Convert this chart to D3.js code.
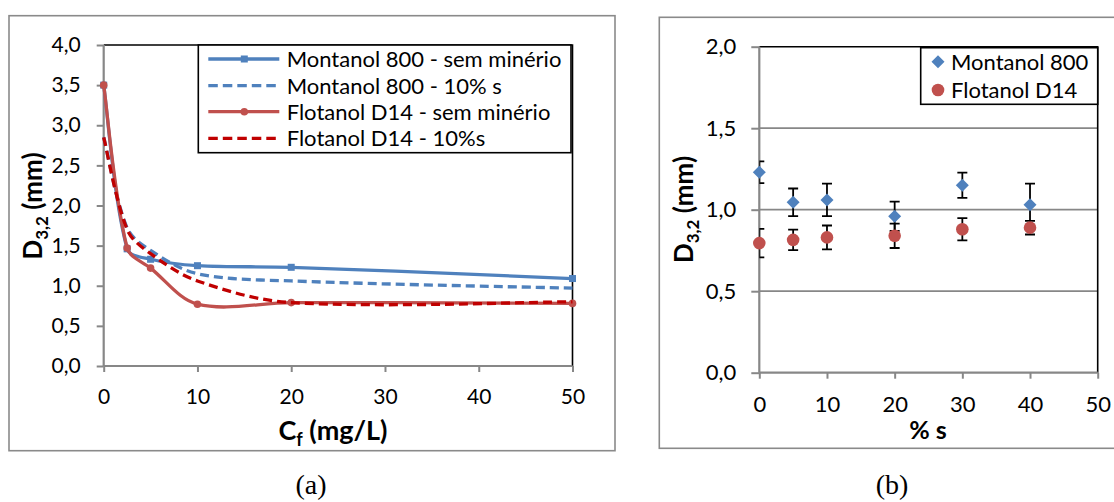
<!DOCTYPE html>
<html><head><meta charset="utf-8">
<script src="https://cdn.jsdelivr.net/npm/d3@7"></script>
<style>
html,body{margin:0;padding:0;background:#fff;}
svg{display:block;}
text{fill:#000;}
</style></head>
<body>
<svg id="c" width="1114" height="502"></svg>
<script>
// ---------- DATA ----------
// Chart (a)
const cf = [0, 2.5, 5, 10, 20, 50];
const montanolSem = [3.5, 1.46, 1.33, 1.25, 1.23, 1.09];
const montanol10 = [2.85, 1.72, 1.44, 1.15, 1.06, 0.97];
const flotanolSem = [3.5, 1.47, 1.22, 0.77, 0.79, 0.78];
const flotanol10 = [2.85, 1.70, 1.40, 1.06, 0.79, 0.80];
const seriesNamesA = ["Montanol 800 - sem minério", "Montanol 800 - 10% s", "Flotanol D14 - sem minério", "Flotanol D14 - 10%s"];
const xTicksA = [0, 10, 20, 30, 40, 50];
const yTicksA = [0, 0.5, 1, 1.5, 2, 2.5, 3, 3.5, 4];
// Chart (b)
const pctS = [0, 5, 10, 20, 30, 40];
const montanolB = [1.23, 1.045, 1.06, 0.96, 1.15, 1.03];
const montanolBErr = [0.067, 0.085, 0.10, 0.09, 0.077, 0.13];
const flotanolB = [0.795, 0.815, 0.83, 0.84, 0.88, 0.89];
const flotanolBErr = [0.087, 0.063, 0.073, 0.075, 0.068, 0.042];
const seriesNamesB = ["Montanol 800", "Flotanol D14"];
const xTicksB = [0, 10, 20, 30, 40, 50];
const yTicksB = [0, 0.5, 1, 1.5, 2];

// ---------- STYLE ----------
const BLUE = "#4F81BD", RED = "#C0504D", DRED = "#C00000", AXIS = "#878787", BOX = "#8a8a8a";
const SANS = "Lato, 'Open Sans', sans-serif", SERIF = "'Liberation Serif', 'Times New Roman', serif";
const fmt = d => d3.format(".1f")(d).replace(".", ",");

const svg = d3.select("#c").style("font-family", SANS);
svg.append("rect").attr("width", 1114).attr("height", 502).attr("fill", "#fff");

function styleAxis(a, fs) {
  a.attr("font-family", null);
  a.select(".domain").attr("stroke", AXIS).attr("stroke-width", 2.2);
  a.selectAll(".tick line").attr("stroke", AXIS).attr("stroke-width", 2);
  a.selectAll("text").style("font-size", fs + "px").style("font-family", SANS);
}

// spreadsheet-style smoothed line: Bezier segments with tangents (P[i+1]-P[i-1])
// whose handle lengths are shared in proportion to the adjoining chord lengths
function smoothPath(pts) {
  const n = pts.length, p = d3.path();
  p.moveTo(pts[0][0], pts[0][1]);
  if (n < 2) return p.toString();
  const d = [];
  for (let i = 0; i < n - 1; i++) d.push(Math.hypot(pts[i + 1][0] - pts[i][0], pts[i + 1][1] - pts[i][1]));
  const tan = i => {
    if (i === 0) return [pts[1][0] - pts[0][0], pts[1][1] - pts[0][1]];
    if (i === n - 1) return [pts[n - 1][0] - pts[n - 2][0], pts[n - 1][1] - pts[n - 2][1]];
    return [pts[i + 1][0] - pts[i - 1][0], pts[i + 1][1] - pts[i - 1][1]];
  };
  const wOut = i => (i === 0 ? 0.5 : d[i] / (d[i - 1] + d[i]));
  const wIn = i => (i === n - 1 ? 0.5 : d[i - 1] / (d[i - 1] + d[i]));
  for (let i = 0; i < n - 1; i++) {
    const t0 = tan(i), t1 = tan(i + 1), a = wOut(i) / 3, b = wIn(i + 1) / 3;
    p.bezierCurveTo(pts[i][0] + t0[0] * a, pts[i][1] + t0[1] * a,
      pts[i + 1][0] - t1[0] * b, pts[i + 1][1] - t1[1] * b, pts[i + 1][0], pts[i + 1][1]);
  }
  return p.toString();
}

// ============ CHART (a) ============
const gA = svg.append("g");
gA.append("rect").attr("x", 9).attr("y", 15.7).attr("width", 606).attr("height", 435)
  .attr("fill", "none").attr("stroke", BOX).attr("stroke-width", 1.6);

const xA = d3.scaleLinear().domain([0, 50]).range([103.7, 572.5]);
const yA = d3.scaleLinear().domain([0, 4]).range([366, 45]);

gA.append("path").attr("d", `M${xA(0)},${yA(4)}H${xA(50)}V${yA(0)}`)
  .attr("fill", "none").attr("stroke", "#000").attr("stroke-width", 1.6);

const axA_y = gA.append("g").attr("transform", `translate(${xA(0)},0)`)
  .call(d3.axisLeft(yA).tickValues(yTicksA).tickFormat(fmt).tickSize(7).tickPadding(16));
const axA_x = gA.append("g").attr("transform", `translate(0,${yA(0)})`)
  .call(d3.axisBottom(xA).tickValues(xTicksA).tickFormat(d3.format("d")).tickSize(6).tickPadding(17));
styleAxis(axA_y, 21); styleAxis(axA_x, 21);
axA_y.select(".domain").attr("d", `M0,${yA(0)}V${yA(4)}`);
axA_x.select(".domain").attr("d", `M${xA(0)},0H${xA(50)}`);

const specA = [
  {vals: montanolSem, color: BLUE, dash: null, marker: "square"},
  {vals: montanol10, color: BLUE, dash: "9,5", marker: null},
  {vals: flotanolSem, color: RED, dash: null, marker: "circle"},
  {vals: flotanol10, color: DRED, dash: "9,5", marker: null}
];
specA.forEach(s => {
  const pts = s.vals.map((v, i) => [xA(cf[i]), yA(v)]);
  gA.append("path").attr("d", smoothPath(pts)).attr("fill", "none")
    .attr("stroke", s.color).attr("stroke-width", 3.3)
    .attr("stroke-dasharray", s.dash).attr("stroke-linejoin", "round");
  if (s.marker === "square") {
    gA.selectAll(null).data(s.vals).enter().append("rect")
      .attr("x", (d, i) => xA(cf[i]) - 3.5).attr("y", d => yA(d) - 3.5)
      .attr("width", 7).attr("height", 7).attr("fill", s.color);
  } else if (s.marker === "circle") {
    gA.selectAll(null).data(s.vals).enter().append("circle")
      .attr("cx", (d, i) => xA(cf[i])).attr("cy", d => yA(d)).attr("r", 3.8).attr("fill", s.color);
  }
});

// legend (a)
const legA = gA.append("g");
legA.append("rect").attr("x", 198.3).attr("y", 45).attr("width", 372.7).attr("height", 107.7)
  .attr("fill", "#fff").attr("stroke", "#000").attr("stroke-width", 1.6);
const rowsA = [59, 85.7, 111.7, 138.3];
specA.forEach((s, i) => {
  const y = rowsA[i];
  legA.append("line").attr("x1", 208.3).attr("x2", 279.3).attr("y1", y).attr("y2", y)
    .attr("stroke", s.color).attr("stroke-width", 3.3).attr("stroke-dasharray", s.dash ? "9.5,5" : null);
  if (s.marker === "square") legA.append("rect").attr("x", 244.3 - 3.5).attr("y", y - 3.5).attr("width", 7).attr("height", 7).attr("fill", s.color);
  if (s.marker === "circle") legA.append("circle").attr("cx", 244.3).attr("cy", y).attr("r", 3.8).attr("fill", s.color);
  legA.append("text").attr("x", 286.7).attr("y", y).attr("dy", "0.36em")
    .style("font-size", "22px").text(seriesNamesA[i]);
});

// axis titles (a)
const tyA = gA.append("text").attr("transform", "translate(41.5,206) rotate(-90)")
  .attr("text-anchor", "middle").style("font-weight", "bold").style("font-size", "26px");
tyA.append("tspan").text("D");
tyA.append("tspan").style("font-size", "17px").attr("dy", 6).text("3,2");
tyA.append("tspan").attr("dy", -6).text(" (mm)");
const txA = gA.append("text").attr("x", 333).attr("y", 440)
  .attr("text-anchor", "middle").style("font-weight", "bold").style("font-size", "27px");
txA.append("tspan").text("C");
txA.append("tspan").style("font-size", "18px").attr("dy", 6).text("f");
txA.append("tspan").attr("dy", -6).text(" (mg/L)");
svg.append("text").attr("x", 311).attr("y", 494).attr("text-anchor", "middle")
  .style("font-family", SERIF).style("font-size", "28px").text("(a)");

// ============ CHART (b) ============
const gB = svg.append("g");
gB.append("rect").attr("x", 659.3).attr("y", 17.3).attr("width", 470).attr("height", 431)
  .attr("fill", "none").attr("stroke", BOX).attr("stroke-width", 1.6);

const xB = d3.scaleLinear().domain([0, 50]).range([759.3, 1097.7]);
const yB = d3.scaleLinear().domain([0, 2]).range([372.7, 46.7]);

gB.selectAll(null).data(yTicksB.filter(v => v > 0 && v < 2)).enter().append("line")
  .attr("x1", xB(0)).attr("x2", xB(50)).attr("y1", d => yB(d)).attr("y2", d => yB(d))
  .attr("stroke", AXIS).attr("stroke-width", 1.8);
gB.append("path").attr("d", `M${xB(0)},${yB(2)}H${xB(50)}V${yB(0)}`)
  .attr("fill", "none").attr("stroke", "#000").attr("stroke-width", 1.6);

const axB_y = gB.append("g").attr("transform", `translate(${xB(0)},0)`)
  .call(d3.axisLeft(yB).tickValues(yTicksB).tickFormat(fmt).tickSize(8).tickPadding(15));
const axB_x = gB.append("g").attr("transform", `translate(0,${yB(0)})`)
  .call(d3.axisBottom(xB).tickValues(xTicksB).tickFormat(d3.format("d")).tickSize(6).tickPadding(18));
styleAxis(axB_y, 22); styleAxis(axB_x, 22);
axB_y.select(".domain").attr("d", `M0,${yB(0)}V${yB(2)}`);
axB_x.select(".domain").attr("d", `M${xB(0)},0H${xB(50)}`);

svg.append("clipPath").attr("id", "clipB").append("rect")
  .attr("x", xB(0)).attr("y", yB(2)).attr("width", xB(50) - xB(0)).attr("height", yB(0) - yB(2));

const diamond = (cx, cy, r) => `M${cx},${cy - r}L${cx + r},${cy}L${cx},${cy + r}L${cx - r},${cy}Z`;
function errBars(vals, errs) {
  const g = gB.append("g").attr("clip-path", "url(#clipB)");
  vals.forEach((v, i) => {
    const x = xB(pctS[i]), y1 = yB(v - errs[i]), y2 = yB(v + errs[i]);
    g.append("path").attr("d", `M${x},${y1}V${y2}M${x - 5},${y1}H${x + 5}M${x - 5},${y2}H${x + 5}`)
      .attr("stroke", "#000").attr("stroke-width", 1.8).attr("fill", "none");
  });
}
errBars(montanolB, montanolBErr);
gB.selectAll(null).data(montanolB).enter().append("path")
  .attr("d", (d, i) => diamond(xB(pctS[i]), yB(d), 6.5)).attr("fill", BLUE);
errBars(flotanolB, flotanolBErr);
gB.selectAll(null).data(flotanolB).enter().append("circle")
  .attr("cx", (d, i) => xB(pctS[i])).attr("cy", d => yB(d)).attr("r", 6.3).attr("fill", RED);

// legend (b)
const legB = gB.append("g");
legB.append("rect").attr("x", 920.7).attr("y", 47.7).attr("width", 177).attr("height", 56.6)
  .attr("fill", "#fff").attr("stroke", "#000").attr("stroke-width", 1.6);
legB.append("path").attr("d", diamond(938, 61.7, 6.5)).attr("fill", BLUE);
legB.append("circle").attr("cx", 938).attr("cy", 90).attr("r", 6.3).attr("fill", RED);
[61.7, 90].forEach((y, i) => legB.append("text").attr("x", 951).attr("y", y).attr("dy", "0.36em")
  .style("font-size", "22px").text(seriesNamesB[i]));

const tyB = gB.append("text").attr("transform", "translate(693.3,209.5) rotate(-90)")
  .attr("text-anchor", "middle").style("font-weight", "bold").style("font-size", "26px");
tyB.append("tspan").text("D");
tyB.append("tspan").style("font-size", "17px").attr("dy", 6).text("3,2");
tyB.append("tspan").attr("dy", -6).text(" (mm)");
gB.append("text").attr("x", 928).attr("y", 439).attr("text-anchor", "middle")
  .style("font-weight", "bold").style("font-size", "25px").text("% s");
svg.append("text").attr("x", 892).attr("y", 494).attr("text-anchor", "middle")
  .style("font-family", SERIF).style("font-size", "28px").text("(b)");
</script>
</body></html>
